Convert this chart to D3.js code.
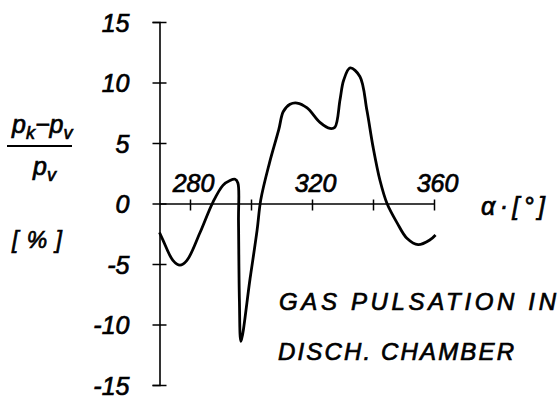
<!DOCTYPE html>
<html>
<head>
<meta charset="utf-8">
<script src="https://cdn.jsdelivr.net/npm/d3@7"></script>
<style>
  body { margin: 0; background: #fff; }
  text { font-family: "Liberation Sans", Arial, sans-serif; font-style: italic; fill: #000; stroke: #000; stroke-width: 0.7px; }
</style>
</head>
<body>
<div id="chart"></div>
<script>
// gas pulsation in discharge chamber, crank angle vs relative pressure

var angles = [270, 271.1, 274.4, 276.7, 279.0, 283.3, 287.5, 290.8, 293.1, 294.8, 295.7,
              295.9, 296.2, 296.7, 299.7, 302.0, 303.2, 306.0, 309.1, 310.6, 312.8, 315.1, 318.4,
              322.6, 325.9, 327.5, 329.2, 330.4, 332.5, 335.7, 338.0, 340.0, 342.3, 344.6, 347.9,
              351.2, 354.8, 358.7, 360.5];
var pulsation = [-2.4, -3.0, -4.7, -5.1, -4.7, -2.4, 0.1, 1.5, 1.9, 2.0, 1.7,
                 -1.4, -8.0, -11.4, -6.2, -2.2, 0.3, 3.3, 6.1, 7.6, 8.2, 8.3, 7.9,
                 6.7, 6.2, 6.3, 8.6, 10.2, 11.2, 10.5, 7.7, 4.7, 1.9, 0.0, -1.6,
                 -2.9, -3.4, -3.0, -2.6];

var yTicks = [-15, -10, -5, 0, 5, 10, 15];
var xTicks = [280, 300, 320, 340, 360];
var xTickLabels = [280, 320, 360];

var svgWidth = 560;
var svgHeight = 399;

var svg = d3.select("#chart")
    .append("svg")
    .attr("width", svgWidth)
    .attr("height", svgHeight);

var xScale = d3.scaleLinear().domain([270, 360]).range([159.5, 434]);
var yScale = d3.scaleLinear().domain([-15, 15]).range([385, 22]);

// y axis, ticks cross the line
var yAxis = d3.axisLeft(yScale).tickValues(yTicks).tickSizeOuter(0).tickSize(7)
    .tickFormat(d => d < 0 ? "-" + Math.abs(d) : d);
var yG = svg.append("g")
    .attr("transform", `translate(${xScale(270)},0)`)
    .call(yAxis);
yG.select(".domain").attr("stroke-width", 1.6);
yG.selectAll(".tick line").attr("x1", -7).attr("x2", 7).attr("stroke-width", 1.5);
yG.selectAll(".tick text")
    .attr("x", -30)
    .attr("dy", "0.36em")
    .style("font-size", "25px")
    .style("font-family", "'Liberation Sans', Arial, sans-serif")
    .style("font-style", "italic");

// x axis through zero
var xAxis = d3.axisBottom(xScale).tickValues(xTicks).tickSizeOuter(0)
    .tickFormat(d => xTickLabels.includes(d) ? d : "");
var xG = svg.append("g")
    .attr("transform", `translate(0,${yScale(0)})`)
    .call(xAxis);
xG.select(".domain").attr("stroke-width", 1.6);
xG.selectAll(".tick line").attr("y1", -4).attr("y2", 7).attr("stroke-width", 1.5);
xG.selectAll(".tick text")
    .attr("y", -12)
    .attr("dy", 0)
    .attr("dx", 3)
    .style("font-size", "25px")
    .style("font-family", "'Liberation Sans', Arial, sans-serif")
    .style("font-style", "italic");

// the curve
var pts = angles.map((a, i) => [a, pulsation[i]]);
var line = d3.line()
    .x(d => xScale(d[0]))
    .y(d => yScale(d[1]))
    .curve(d3.curveCatmullRom.alpha(0.5));

svg.append("path")
    .datum(pts)
    .attr("fill", "none")
    .attr("stroke", "#000")
    .attr("stroke-width", 2.8)
    .attr("stroke-linejoin", "round")
    .attr("d", line);

// y label as fraction
var num = svg.append("text").attr("x", 12).attr("y", 133).style("font-size", "25px");
num.append("tspan").text("p");
num.append("tspan").attr("dy", 6).style("font-size", "18px").text("k");
num.append("tspan").attr("dy", -6).text("−p");
num.append("tspan").attr("dy", 6).style("font-size", "18px").text("v");

svg.append("line")
    .attr("x1", 7).attr("x2", 72)
    .attr("y1", 146).attr("y2", 146)
    .attr("stroke", "#000").attr("stroke-width", 2.2);

var den = svg.append("text").attr("x", 33).attr("y", 175).style("font-size", "25px");
den.append("tspan").text("p");
den.append("tspan").attr("dy", 6).style("font-size", "18px").text("v");

svg.append("text")
    .attr("x", 12).attr("y", 248)
    .attr("textLength", 50)
    .attr("lengthAdjust", "spacing")
    .style("font-size", "23px")
    .text("[%]");

svg.append("text")
    .attr("x", 481).attr("y", 215)
    .attr("textLength", 64)
    .attr("lengthAdjust", "spacing")
    .style("font-size", "25px")
    .text("α·[°]");

svg.append("text")
    .attr("x", 279).attr("y", 310)
    .attr("textLength", 277)
    .attr("lengthAdjust", "spacing")
    .style("font-size", "24px")
    .text("GAS PULSATION IN");

svg.append("text")
    .attr("x", 278).attr("y", 360)
    .attr("textLength", 236)
    .attr("lengthAdjust", "spacing")
    .style("font-size", "24px")
    .text("DISCH. CHAMBER");
</script>
</body>
</html>
